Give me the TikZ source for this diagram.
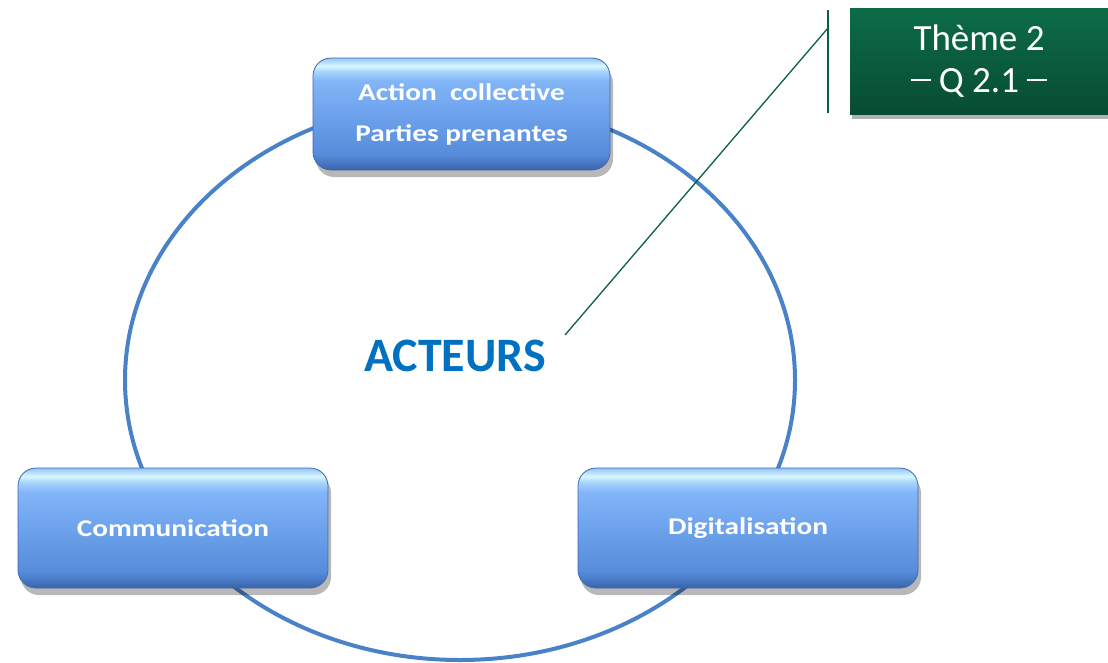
\documentclass[tikz,border=0pt]{standalone}
\usepackage{fontspec}
\setmainfont{Carlito}
\newfontfamily\boxfont[FakeStretch=1.22]{Carlito}
\usetikzlibrary{shadows}
\definecolor{ringblue}{RGB}{74,130,200}
\definecolor{titleblue}{RGB}{0,112,192}
\definecolor{calloutgreen}{RGB}{10,96,64}
\definecolor{greentop}{RGB}{12,108,72}
\definecolor{greenbot}{RGB}{8,76,50}
\definecolor{boxedge}{RGB}{62,104,172}
\definecolor{gbA}{RGB}{58,100,170}
\definecolor{gbB}{RGB}{74,124,200}
\definecolor{gbC}{RGB}{86,140,218}
\definecolor{gbD}{RGB}{112,164,238}
\definecolor{gbE}{RGB}{130,182,248}
\definecolor{gbF}{RGB}{165,212,252}
\definecolor{gbG}{RGB}{215,248,255}
\definecolor{gbH}{RGB}{150,195,245}
\pgfdeclareverticalshading{glossblue}{100bp}{
  color(0bp)=(gbA);
  color(25bp)=(gbA);
  color(29bp)=(gbB);
  color(32bp)=(gbC);
  color(52bp)=(gbD);
  color(65bp)=(gbE);
  color(69bp)=(gbF);
  color(71.5bp)=(gbG);
  color(75bp)=(gbH);
  color(100bp)=(gbH)}
\tikzset{
  x=1pt, y=-1pt,
  bluebox/.style={rectangle, rounded corners=18pt, draw=boxedge, line width=0.8pt,
    shade, shading=glossblue,
    drop shadow={shadow xshift=3pt, shadow yshift=-7pt, opacity=0.28, fill=black},
    text=white, align=center, font=\boxfont\bfseries\fontsize{24}{41}\selectfont,
    inner sep=0pt},
  themebox/.style={rectangle, top color=greentop, bottom color=greenbot, draw=none,
    drop shadow={shadow xshift=2pt, shadow yshift=-5pt, opacity=0.3, fill=black},
    text=white, align=center, font=\fontsize{37}{42}\selectfont, inner sep=0pt},
  ring/.style={draw=ringblue, line width=4pt},
  callout/.style={draw=calloutgreen, line width=1.3pt}
}
\newcommand{\qdash}{\rule[11pt]{20pt}{2.4pt}}
\begin{document}
\begin{tikzpicture}
\useasboundingbox (0,0) rectangle (1108,662);
\draw[ring] (460,380) ellipse [x radius=335, y radius=280];
\node[bluebox, minimum width=297pt, minimum height=112pt] (top) at (461.5,114) {Action~ collective\\Parties prenantes};
\node[bluebox, minimum width=310pt, minimum height=120pt] (comm) at (173,528) {Communication};
\node[bluebox, minimum width=340pt, minimum height=120pt] (digi) at (748,528) {Digitalisation};
\node[text=titleblue, font=\bfseries\fontsize{48}{52}\selectfont] (act) at (455,356) {ACTEURS};
\node[themebox, minimum width=258pt, minimum height=106pt] (theme) at (979,61) {Thème 2\\\qdash\ Q 2.1 \qdash};
\coordinate (bartop) at (828,10);
\coordinate (barbot) at (828,113);
\coordinate (barjoin) at (828,28);
\coordinate (tip) at (565,335);
\draw[callout] (bartop) -- (barbot);
\draw[callout] (barjoin) -- (tip);
\end{tikzpicture}
\end{document}
